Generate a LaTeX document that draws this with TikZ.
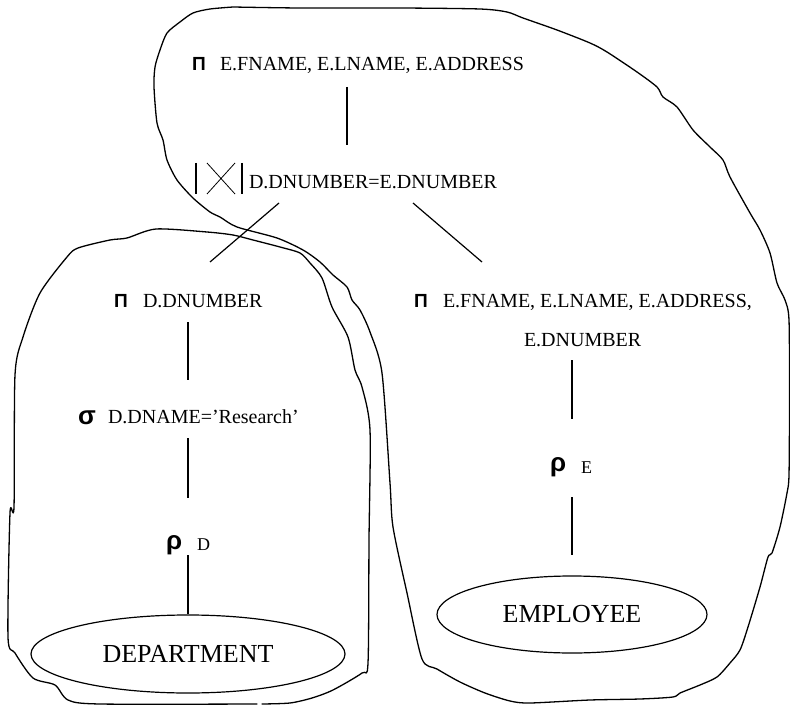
\documentclass[tikz,border=0pt]{standalone}
\usepackage{fontspec}
\setmainfont{Liberation Serif}
\newfontfamily\gkfont{Liberation Sans}
\usetikzlibrary{shapes.geometric}
\begin{document}
\begin{tikzpicture}[x=1pt,y=-1pt,
  lbl/.style={inner sep=0pt, outer sep=0pt, anchor=base west, font=\fontsize{20}{24}\selectfont, text height=14pt, text depth=4pt},
  sublbl/.style={lbl, font=\fontsize{18}{22}\selectfont},
  greekbig/.style={inner sep=0pt, outer sep=0pt, anchor=base west, font=\gkfont\bfseries\fontsize{26}{30}\selectfont},
  greekpi/.style={inner sep=0pt, outer sep=0pt, anchor=base west, font=\gkfont\bfseries\fontsize{19}{24}\selectfont},
  rel/.style={ellipse, draw, line width=1.2pt, inner sep=0pt, font=\fontsize{26}{30}\selectfont},
  edge/.style={line width=1.2pt},
  blob/.style={line width=1.3pt, line join=round, line cap=round}
]
\useasboundingbox (0,0) rectangle (790,706);

% outlines
\draw[blob] plot[smooth, tension=0.45] coordinates {
 (233,7) (300,8) (400,8) (480,9) (507,12) (523,18) (557,30) (590,43) (607,52)
 (637,72) (657,87) (663,97) (677,107) (693,130) (710,147) (723,160) (730,177)
 (750,213) (760,230) (770,253) (777,283) (785,300) (789,320) (789.5,400) (789,475)
 (787,493) (780,527) (772,553) (768,557) (760,587) (748,627) (740,650) (730,663)
 (717,677) (700,685) (680,693) (673,697) (640,699) (590,700) (530,703) (510,701)
 (485,693) (460,682) (437,669) (422,659) (407,593) (393,527) (390,483) (382,373)
 (370,332) (360,310) (352,300) (347,287) (333,275) (320,262) (303,250) (277,238)
 (237,227) (220,217) (210,212) (193,198) (177,180) (167,160) (163,140) (157,123)
 (154,87) (155,67) (160,50) (167,33) (180,22) (193,13) (210,9) (233,7)};
\draw[blob] plot[smooth, tension=0.45] coordinates {
 (262,704) (290,703) (312,698) (333,690) (362,673) (368,663) (369,540) (370,430)
 (362,387) (355,370) (348,337) (332,307) (322,278) (310,263) (300,253) (280,247)
 (253,240) (233,235) (207,232) (156,229) (127,238) (110,240) (78,248) (67,257)
 (40,293) (23,337) (15,375) (14,507) (10,513) (8,637) (15,653) (33,678) (55,685)
 (68,700) (100,704) (257,704)};

% top projection
\node[greekpi] (piTop) at (192,71) {Π};
\node[lbl] (tTop) at (220,71) {E.FNAME, E.LNAME, E.ADDRESS};

% join
\node[inner sep=0pt, outer sep=0pt, minimum width=46pt, minimum height=31pt] (joinSym) at (219,178.5) {};
\draw[line width=1.4pt] (joinSym.north west) -- (joinSym.south west)
                        (joinSym.north east) -- (joinSym.south east);
\draw[line width=0.8pt] ([xshift=11pt]joinSym.north west) -- ([xshift=-7pt]joinSym.south east)
                        ([xshift=-7pt]joinSym.north east) -- ([xshift=11pt]joinSym.south west);
\node[lbl] (tJoin) at (249,189) {D.DNUMBER=E.DNUMBER};

% left branch
\node[greekpi] (piD) at (114,307) {Π};
\node[lbl] (tPiD) at (143,307) {D.DNUMBER};
\node[greekbig] (sigD) at (78,424) {σ};
\node[lbl] (tSigD) at (108,423) {D.DNAME=’Research’};
\node[greekbig] (rhoD) at (166,549) {ρ};
\node[sublbl] (tRhoD) at (197,550) {D};
\node[rel, minimum width=314pt, minimum height=78pt] (dept) at (188,654) {DEPARTMENT};

% right branch
\node[greekpi] (piE) at (414,307) {Π};
\node[lbl] (tPiE) at (443,307) {E.FNAME, E.LNAME, E.ADDRESS,};
\node[lbl] (tPiE2) at (524,346) {E.DNUMBER};
\node[greekbig] (rhoE) at (550,471) {ρ};
\node[sublbl] (tRhoE) at (581,473) {E};
\node[rel, minimum width=270pt, minimum height=77pt] (emp) at (572,614.5) {EMPLOYEE};

% connectors
\draw[edge] ([xshift=127pt,yshift=-12pt]tTop.south west) -- ([xshift=98pt,yshift=30pt]tJoin.north west);
\draw[edge] ([xshift=30pt,yshift=-10pt]tJoin.south west) -- ([xshift=67pt,yshift=31pt]tPiD.north west);
\draw[edge] ([xshift=164pt,yshift=-10pt]tJoin.south west) -- ([xshift=39pt,yshift=31pt]tPiE.north west);
\draw[edge] ([xshift=45pt,yshift=-11pt]tPiD.south west) -- ([xshift=80pt,yshift=29pt]tSigD.north west);
\draw[edge] ([xshift=80pt,yshift=-11pt]tSigD.south west) -- ([xshift=-9pt,yshift=38pt]tRhoD.north west);
\draw[edge] ([xshift=-9pt,yshift=-1pt]tRhoD.south west) -- (dept.north);
\draw[edge] ([xshift=48pt,yshift=-10pt]tPiE2.south west) -- ([xshift=-9pt,yshift=40pt]tRhoE.north west);
\draw[edge] ([xshift=-9pt,yshift=-20pt]tRhoE.south west) -- ([yshift=20pt]emp.north);
\end{tikzpicture}
\end{document}
